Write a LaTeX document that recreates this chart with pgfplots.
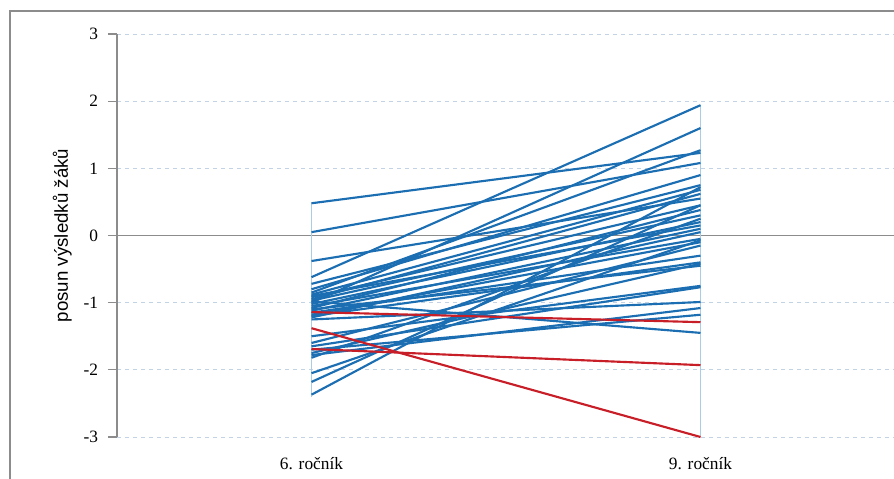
\documentclass[border=0pt]{standalone}
\usepackage{fontspec}
\setmainfont{Liberation Serif}
\newfontfamily\arialfont{Liberation Sans}
\usepackage{pgfplots}
\pgfplotsset{compat=1.18}
\definecolor{lb}{RGB}{28,110,178}
\definecolor{lr}{RGB}{200,30,40}
\definecolor{hl}{RGB}{170,205,230}
\definecolor{gridc}{RGB}{195,210,228}
\definecolor{axc}{RGB}{140,140,140}
\begin{document}
\begin{tikzpicture}[x=0.75pt,y=0.75pt]
\useasboundingbox (0,0) rectangle (894,479);
\draw[axc, line width=0.8pt] (10,468) rectangle (910,-20);
\begin{axis}[
  at={(87.75pt,31.5pt)}, anchor=south west,
  scale only axis, width=583.5pt, height=302.25pt,
  xmin=-0.5, xmax=1.5, ymin=-3, ymax=3,
  axis x line*=bottom, axis y line*=left,
  x axis line style={draw=none},
  y axis line style={axc, line width=0.8pt},
  xtick={0,1}, xticklabels={6. ročník, 9. ročník},
  major x tick style={draw=none},
  ytick={-3,-2,-1,0,1,2,3},
  tick align=outside, major tick length=6.75pt,
  major y tick style={axc, line width=0.8pt},
  ymajorgrids, major grid style={gridc, dashed, line width=0.6pt},
  /pgf/number format/assume math mode=true,
  tick label style={font=\fontsize{13}{15}\selectfont},
  xticklabel style={yshift=-5pt},
  yticklabel style={xshift=-4pt},
  ylabel={posun výsledků žáků},
  ylabel style={font=\arialfont\fontsize{14}{16}\selectfont, yshift=2pt},
  clip=false,
  every axis plot/.append style={line width=1.6pt},
]
\draw[axc, line width=0.8pt] (axis cs:-0.5,0) -- (axis cs:1.5,0);
% high-low lines
\addplot[hl, line width=0.9pt] coordinates {(0,-2.4) (0,0.48)};
\addplot[hl, line width=0.9pt] coordinates {(1,-3.0) (1,1.94)};
% blue series
\addplot[lb] coordinates {(0,0.48) (1,1.23)};
\addplot[lb] coordinates {(0,0.05) (1,1.08)};
\addplot[lb] coordinates {(0,-0.38) (1,0.55)};
\addplot[lb] coordinates {(0,-0.62) (1,1.94)};
\addplot[lb] coordinates {(0,-0.72) (1,0.75)};
\addplot[lb] coordinates {(0,-0.85) (1,1.27)};
\addplot[lb] coordinates {(0,-0.88) (1,0.68)};
\addplot[lb] coordinates {(0,-0.92) (1,0.45)};
\addplot[lb] coordinates {(0,-0.95) (1,0.62)};
\addplot[lb] coordinates {(0,-0.97) (1,0.30)};
\addplot[lb] coordinates {(0,-1.00) (1,1.60)};
\addplot[lb] coordinates {(0,-1.02) (1,0.20)};
\addplot[lb] coordinates {(0,-1.05) (1,-0.05)};
\addplot[lb] coordinates {(0,-1.08) (1,0.38)};
\addplot[lb] coordinates {(0,-1.10) (1,-0.45)};
\addplot[lb] coordinates {(0,-1.12) (1,0.10)};
\addplot[lb] coordinates {(0,-1.20) (1,-0.40)};
\addplot[lb] coordinates {(0,-1.22) (1,0.05)};
\addplot[lb] coordinates {(0,-0.98) (1,-1.45)};
\addplot[lb] coordinates {(0,-1.25) (1,-0.99)};
\addplot[lb] coordinates {(0,-1.50) (1,-0.75)};
\addplot[lb] coordinates {(0,-1.60) (1,-0.15)};
\addplot[lb] coordinates {(0,-1.75) (1,-0.42)};
\addplot[lb] coordinates {(0,-1.78) (1,-1.08)};
\addplot[lb] coordinates {(0,-1.82) (1,0.25)};
\addplot[lb] coordinates {(0,-2.05) (1,-0.07)};
\addplot[lb] coordinates {(0,-2.18) (1,0.45)};
\addplot[lb] coordinates {(0,-2.37) (1,0.72)};
\addplot[lb] coordinates {(0,-1.70) (1,-1.18)};
\addplot[lb] coordinates {(0,-1.65) (1,-0.77)};
\addplot[lb] coordinates {(0,-0.80) (1,0.90)};
\addplot[lb] coordinates {(0,-1.15) (1,-0.30)};
\addplot[lb] coordinates {(0,-0.90) (1,0.15)};
\addplot[lb] coordinates {(0,-1.18) (1,-0.10)};
% red series
\addplot[lr] coordinates {(0,-1.14) (1,-1.29)};
\addplot[lr] coordinates {(0,-1.69) (1,-1.93)};
\addplot[lr] coordinates {(0,-1.38) (1,-3.00)};
\end{axis}
\end{tikzpicture}
\end{document}
